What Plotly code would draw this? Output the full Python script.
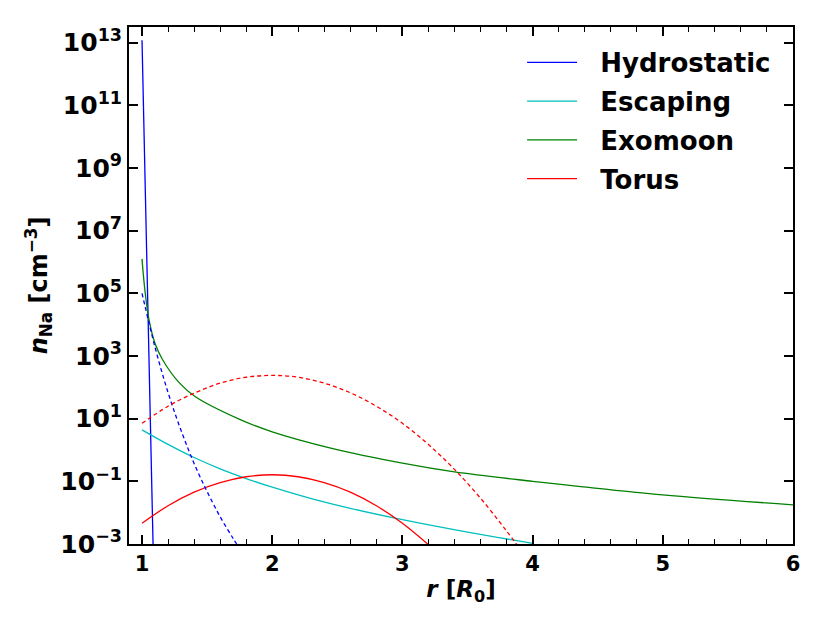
import numpy as np
import plotly.graph_objects as go

# radius in units of R_0, densities in cm^-3
r_hydro = [1.0, 1.02, 1.04, 1.06, 1.08, 1.09]
n_hydro = [1.2e13, 2.0e9, 1.0e5, 1.0e1, 1.6e-3, 1.0e-4]

r_hydro_d = [1.0, 1.1, 1.2, 1.3, 1.4, 1.5, 1.6, 1.7, 1.75]
n_hydro_d = [1.0e5, 1.9e3, 6.8e1, 4.2e0, 3.7e-1, 4.7e-2, 7.4e-3, 1.5e-3, 7.2e-4]

r_esc = [1.0, 1.2, 1.4, 1.6, 1.8, 2.0, 2.3, 2.6, 3.0, 3.5, 4.0]
n_esc = [4.4, 1.51, 0.575, 0.251, 0.123, 0.065, 0.0282, 0.0138, 6.0e-3, 2.4e-3, 1.05e-3]

r_moon = [1.0, 1.01, 1.025, 1.054, 1.1, 1.156, 1.285, 1.41, 1.75, 2.0, 2.45, 3.0, 3.4, 4.0, 4.37, 5.0, 6.0]
n_moon = [1.26e6, 4.0e5, 1.0e5, 1.41e4, 2.5e3, 7.9e2, 1.41e2, 50, 9.5, 3.8, 1.15, 0.38, 0.2, 0.1, 0.068, 0.037, 0.0178]

r_torus = [1.0, 1.2, 1.4, 1.6, 1.8, 2.0, 2.2, 2.4, 2.6, 2.8, 3.0, 3.2]
n_torus = [4.6e-3, 1.66e-2, 4.5e-2, 9.1e-2, 1.4e-1, 1.62e-1, 1.4e-1, 9.1e-2, 4.5e-2, 1.66e-2, 4.6e-3, 9.5e-4]

r_torus_d = [1.0, 1.2, 1.4, 1.6, 1.8, 2.0, 2.2, 2.4, 2.6, 2.8, 3.0, 3.2, 3.4, 3.6, 3.8, 3.9]
n_torus_d = [7.1, 25, 65, 136, 210, 240, 210, 136, 67, 25, 7.1, 1.5, 0.24, 0.029, 2.6e-3, 7.3e-4]

ytick_vals = [1e-3, 1e-1, 1e1, 1e3, 1e5, 1e7, 1e9, 1e11, 1e13]
ytick_text = ['10<sup>\u22123</sup>', '10<sup>\u22121</sup>', '10<sup>1</sup>', '10<sup>3</sup>',
              '10<sup>5</sup>', '10<sup>7</sup>', '10<sup>9</sup>', '10<sup>11</sup>', '10<sup>13</sup>']

pad = '\u2002\u2009'  # push legend text away from the short line

fig = go.Figure()
fig.add_trace(go.Scatter(x=r_hydro, y=n_hydro, mode='lines', name=pad + 'Hydrostatic', legendgroup='a',
                         line=dict(color='#0000ff', width=1.3)))
fig.add_trace(go.Scatter(x=r_esc, y=n_esc, mode='lines', name=pad + 'Escaping', legendgroup='b',
                         line_shape='spline', line=dict(color='#00bfbf', width=1.3)))
fig.add_trace(go.Scatter(x=r_moon, y=n_moon, mode='lines', name=pad + 'Exomoon', legendgroup='c',
                         line_shape='spline', line=dict(color='#008000', width=1.3)))
fig.add_trace(go.Scatter(x=r_torus, y=n_torus, mode='lines', name=pad + 'Torus', legendgroup='d',
                         line_shape='spline', line=dict(color='#ff0000', width=1.3)))
fig.add_trace(go.Scatter(x=r_hydro_d, y=n_hydro_d, mode='lines', showlegend=False, line_shape='spline',
                         line=dict(color='#0000ff', width=1.3, dash='4px,3px')))
fig.add_trace(go.Scatter(x=r_torus_d, y=n_torus_d, mode='lines', showlegend=False, line_shape='spline',
                         line=dict(color='#ff0000', width=1.3, dash='4px,3px')))

font = 'DejaVu Sans, sans-serif'
# page body has an 8px margin, so the figure is a bit smaller and shifted
fig.update_layout(
    width=822, height=623,
    margin=dict(l=121, r=37, t=19, b=87),
    plot_bgcolor='white', paper_bgcolor='white',
    font=dict(family=font, color='black'),
    legend=dict(x=0.592, y=0.977, xanchor='left', yanchor='top', bgcolor='rgba(0,0,0,0)',
                font=dict(size=26, family=font, weight='bold'), itemwidth=50, tracegroupgap=2),
    xaxis=dict(range=[0.9, 6], tickvals=[1, 2, 3, 4, 5, 6], showgrid=False, zeroline=False,
               showline=True, linecolor='black', linewidth=2, mirror='allticks',
               ticks='inside', ticklen=9, tickwidth=1.5, tickcolor='black',
               tickfont=dict(size=21, family=font, weight='bold'),
               minor=dict(dtick=0.2, ticks='inside', ticklen=5, tickwidth=1.2, tickcolor='black'),
               title=dict(text='<b><i>r</i> [<i>R</i><sub>0</sub>]</b>', font=dict(size=23, family=font),
                          standoff=6)),
    yaxis=dict(type='log', range=[-3, 13.5], tickvals=ytick_vals, ticktext=ytick_text,
               showgrid=False, zeroline=False, showline=True, linecolor='black', linewidth=2,
               mirror='allticks', ticks='inside', ticklen=9, tickwidth=1.5, tickcolor='black',
               tickfont=dict(size=25, family=font, weight='bold'),
               title=dict(text='<b><i>n</i><sub>Na</sub> [cm<sup>\u22123</sup>]</b>',
                          font=dict(size=24, family=font), standoff=6)),
)

fig.write_html("out.html")
